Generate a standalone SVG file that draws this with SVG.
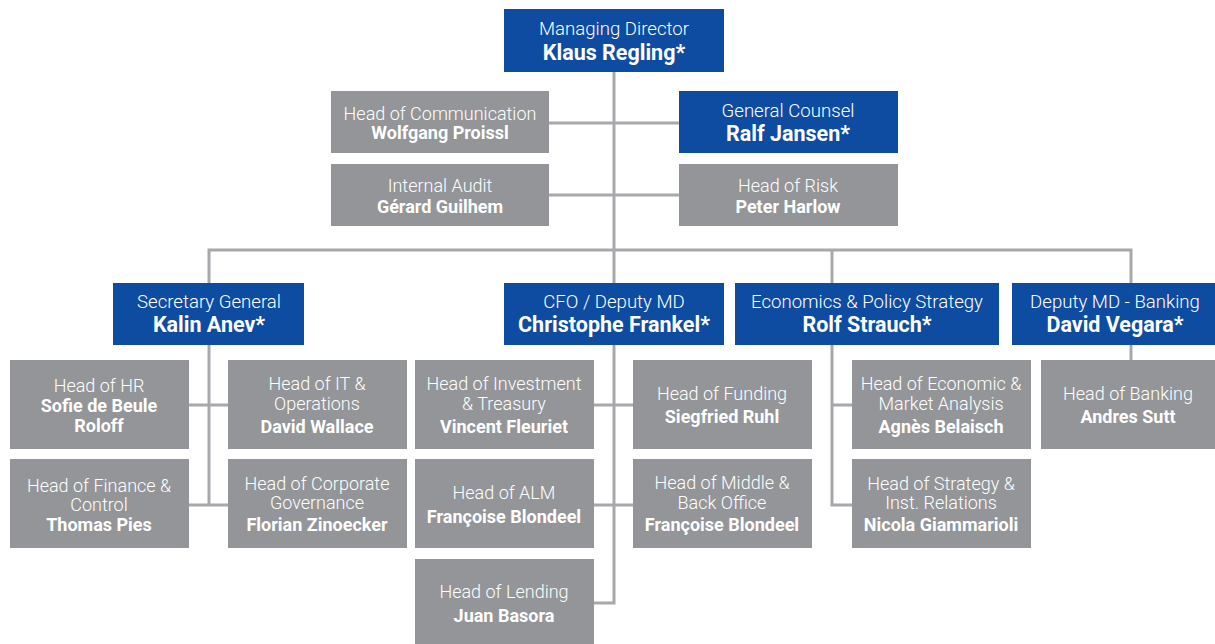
<svg xmlns="http://www.w3.org/2000/svg" width="1215" height="644" viewBox="0 0 1215 644">
<style>
.bg{fill:#ffffff}
.blue{fill:#0e4ca1}
.gray{fill:#939598}
.ln{stroke:#a7a8ab;stroke-width:3;fill:none}
text{font-family:Roboto,"Liberation Sans",sans-serif;fill:#ffffff;text-anchor:middle}
.t{font-weight:300;font-size:18.6px}
.n{font-weight:700;font-size:21.5px}
.g{font-weight:300;font-size:18px}
.gn{font-weight:700;font-size:18px}
</style>
<rect class="bg" x="0" y="0" width="1215" height="644"/>
<g id="connectors">
<path class="ln" d="M614 72V250"/>
<path class="ln" d="M549 123H679"/>
<path class="ln" d="M549 195H679"/>
<path class="ln" d="M209 283V250H1131V283"/>
<path class="ln" d="M614 250V283"/>
<path class="ln" d="M832 250V283"/>
<path class="ln" d="M209 345V505"/>
<path class="ln" d="M189 405H228"/>
<path class="ln" d="M189 505H228"/>
<path class="ln" d="M614 345V603H594"/>
<path class="ln" d="M594 405H633"/>
<path class="ln" d="M594 505H633"/>
<path class="ln" d="M832 345V505H852"/>
<path class="ln" d="M832 405H852"/>
<path class="ln" d="M1131 345V360"/>
</g>
<g id="md"><rect class="blue" x="504" y="9" width="220" height="63"/><text class="t" x="614" y="35">Managing Director</text><text class="n" x="614" y="60">Klaus Regling*</text></g>
<g id="comm"><rect class="gray" x="331" y="91" width="218" height="62"/><text class="g" x="440" y="120">Head of Communication</text><text class="gn" x="440" y="139">Wolfgang Proissl</text></g>
<g id="counsel"><rect class="blue" x="679" y="91" width="219" height="62"/><text class="t" x="788" y="117">General Counsel</text><text class="n" x="788" y="141">Ralf Jansen*</text></g>
<g id="audit"><rect class="gray" x="331" y="164" width="218" height="62"/><text class="g" x="440" y="192">Internal Audit</text><text class="gn" x="440" y="213">Gérard Guilhem</text></g>
<g id="risk"><rect class="gray" x="679" y="164" width="219" height="62"/><text class="g" x="788" y="192">Head of Risk</text><text class="gn" x="788" y="213">Peter Harlow</text></g>
<g id="secgen"><rect class="blue" x="113" y="283" width="191" height="62"/><text class="t" x="209" y="308">Secretary General</text><text class="n" x="209" y="332">Kalin Anev*</text></g>
<g id="cfo"><rect class="blue" x="504" y="283" width="220" height="62"/><text class="t" x="614" y="308">CFO / Deputy MD</text><text class="n" x="614" y="332">Christophe Frankel*</text></g>
<g id="econ"><rect class="blue" x="735" y="283" width="264" height="62"/><text class="t" x="867" y="308">Economics &amp; Policy Strategy</text><text class="n" x="867" y="332">Rolf Strauch*</text></g>
<g id="banking"><rect class="blue" x="1012" y="283" width="203" height="62"/><text class="t" x="1115" y="308">Deputy MD - Banking</text><text class="n" x="1115" y="332">David Vegara*</text></g>
<g id="hr"><rect class="gray" x="10" y="360" width="179" height="89"/><text class="g" x="99" y="392">Head of HR</text><text class="gn" x="99" y="412">Sofie de Beule</text><text class="gn" x="99" y="432">Roloff</text></g>
<g id="it"><rect class="gray" x="228" y="360" width="179" height="89"/><text class="g" x="317" y="390">Head of IT &amp;</text><text class="g" x="317" y="410">Operations</text><text class="gn" x="317" y="433">David Wallace</text></g>
<g id="finance"><rect class="gray" x="10" y="459" width="179" height="89"/><text class="g" x="99" y="492">Head of Finance &amp;</text><text class="g" x="99" y="511">Control</text><text class="gn" x="99" y="531">Thomas Pies</text></g>
<g id="corpgov"><rect class="gray" x="228" y="459" width="179" height="89"/><text class="g" x="317" y="490">Head of Corporate</text><text class="g" x="317" y="509">Governance</text><text class="gn" x="317" y="531">Florian Zinoecker</text></g>
<g id="invest"><rect class="gray" x="415" y="360" width="179" height="89"/><text class="g" x="504" y="390">Head of Investment</text><text class="g" x="504" y="410">&amp; Treasury</text><text class="gn" x="504" y="433">Vincent Fleuriet</text></g>
<g id="funding"><rect class="gray" x="633" y="360" width="179" height="89"/><text class="g" x="722" y="400">Head of Funding</text><text class="gn" x="722" y="423">Siegfried Ruhl</text></g>
<g id="alm"><rect class="gray" x="415" y="459" width="179" height="89"/><text class="g" x="504" y="499">Head of ALM</text><text class="gn" x="504" y="523">Françoise Blondeel</text></g>
<g id="middle"><rect class="gray" x="633" y="459" width="179" height="89"/><text class="g" x="722" y="489">Head of Middle &amp;</text><text class="g" x="722" y="509">Back Office</text><text class="gn" x="722" y="531">Françoise Blondeel</text></g>
<g id="lending"><rect class="gray" x="415" y="559" width="179" height="85"/><text class="g" x="504" y="598">Head of Lending</text><text class="gn" x="504" y="622">Juan Basora</text></g>
<g id="econmarket"><rect class="gray" x="852" y="360" width="179" height="89"/><text class="g" x="941" y="390">Head of Economic &amp;</text><text class="g" x="941" y="410">Market Analysis</text><text class="gn" x="941" y="433">Agnès Belaisch</text></g>
<g id="strategy"><rect class="gray" x="852" y="459" width="179" height="89"/><text class="g" x="941" y="490">Head of Strategy &amp;</text><text class="g" x="941" y="509">Inst. Relations</text><text class="gn" x="941" y="531">Nicola Giammarioli</text></g>
<g id="headbanking"><rect class="gray" x="1041" y="360" width="174" height="89"/><text class="g" x="1128" y="400">Head of Banking</text><text class="gn" x="1128" y="423">Andres Sutt</text></g>
</svg>
